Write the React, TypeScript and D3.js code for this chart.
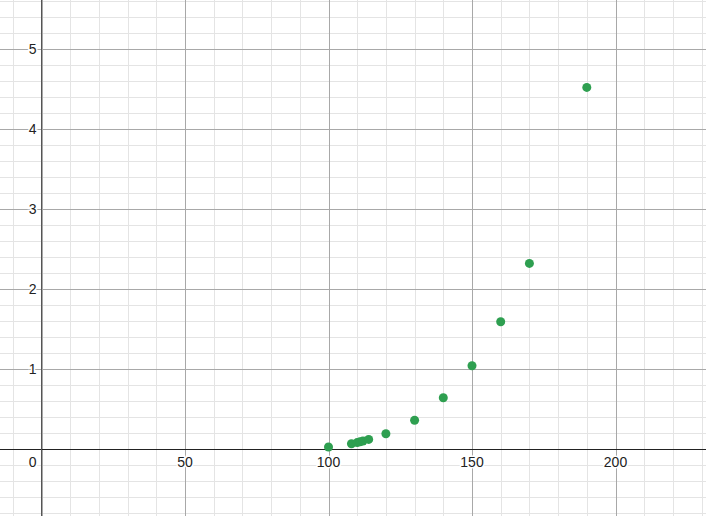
import * as d3 from 'd3';
import { useEffect, useRef } from 'react';

const xValues = [100, 108, 110, 111, 112, 114, 120, 130, 140, 150, 160, 170, 190];
const yValues = [0.025, 0.066, 0.08, 0.09, 0.1, 0.12, 0.19, 0.36, 0.64, 1.04, 1.59, 2.32, 4.52];
const xTickLabels = [0, 50, 100, 150, 200];
const yTickLabels = [1, 2, 3, 4, 5];

const App = () => {
  const ref = useRef<SVGSVGElement>(null);

  useEffect(() => {
    if (!ref.current) return;
    const width = 706;
    const height = 516;
    const svg = d3.select(ref.current);
    svg.selectAll('*').remove();

    // x = 0 sits at 41.5px, 2.87px per unit; y = 0 at 449px, 80px per unit
    const x = d3.scaleLinear().domain([0, 200]).range([41.5, 615.5]);
    const y = d3.scaleLinear().domain([0, 5]).range([449, 49]);

    const [x0, x1] = [x.invert(0), x.invert(width)];
    const [y0, y1] = [y.invert(height), y.invert(0)];

    svg.append('rect').attr('width', width).attr('height', height).attr('fill', '#fff');

    const minorX = d3.range(Math.ceil(x0 / 10) * 10, x1, 10);
    const minorY = d3.range(Math.ceil(y0 / 0.2) * 0.2, y1, 0.2);
    const majorX = d3.range(Math.ceil(x0 / 50) * 50, x1, 50);
    const majorY = d3.range(Math.ceil(y0), y1, 1);

    const grid = svg.append('g').attr('shape-rendering', 'crispEdges');
    grid.selectAll('.vx')
      .data(minorX)
      .join('line')
      .attr('x1', d => Math.round(x(d)) + 0.5)
      .attr('x2', d => Math.round(x(d)) + 0.5)
      .attr('y1', 0)
      .attr('y2', height)
      .attr('stroke', '#e4e4e4');
    grid.selectAll('.hy')
      .data(minorY)
      .join('line')
      .attr('y1', d => Math.round(y(d)) + 0.5)
      .attr('y2', d => Math.round(y(d)) + 0.5)
      .attr('x1', 0)
      .attr('x2', width)
      .attr('stroke', '#e4e4e4');
    grid.selectAll('.mx')
      .data(majorX)
      .join('line')
      .attr('x1', d => Math.round(x(d)) + 0.5)
      .attr('x2', d => Math.round(x(d)) + 0.5)
      .attr('y1', 0)
      .attr('y2', height)
      .attr('stroke', '#a8a8a8');
    grid.selectAll('.my')
      .data(majorY)
      .join('line')
      .attr('y1', d => Math.round(y(d)) + 0.5)
      .attr('y2', d => Math.round(y(d)) + 0.5)
      .attr('x1', 0)
      .attr('x2', width)
      .attr('stroke', '#a8a8a8');

    // axes
    grid.append('line')
      .attr('x1', 0).attr('x2', width)
      .attr('y1', y(0) + 0.5).attr('y2', y(0) + 0.5)
      .attr('stroke', '#222').attr('stroke-width', 1.5);
    grid.append('line')
      .attr('x1', x(0)).attr('x2', x(0))
      .attr('y1', 0).attr('y2', height)
      .attr('stroke', '#555').attr('stroke-width', 1.5);

    const font = 'Arial, "Liberation Sans", sans-serif';
    svg.selectAll('.xl')
      .data(xTickLabels)
      .join('text')
      .attr('x', d => d === 0 ? x(0) - 5 : x(d))
      .attr('y', y(0) + 18)
      .attr('text-anchor', d => d === 0 ? 'end' : 'middle')
      .attr('font-family', font)
      .attr('font-size', 14)
      .attr('fill', '#222')
      .attr('paint-order', 'stroke')
      .attr('stroke', '#fff')
      .attr('stroke-width', 3)
      .text(d => d);
    svg.selectAll('.yl')
      .data(yTickLabels)
      .join('text')
      .attr('x', x(0) - 5)
      .attr('y', d => y(d) + 5)
      .attr('text-anchor', 'end')
      .attr('font-family', font)
      .attr('font-size', 14)
      .attr('fill', '#222')
      .attr('paint-order', 'stroke')
      .attr('stroke', '#fff')
      .attr('stroke-width', 3)
      .text(d => d);

    svg.selectAll('.pt')
      .data(xValues.map((v, i) => ({ x: v, y: yValues[i] })))
      .join('circle')
      .attr('cx', d => x(d.x))
      .attr('cy', d => y(d.y))
      .attr('r', 4.5)
      .attr('fill', '#2e9f50');
  }, []);

  return (
    <svg
      ref={ref}
      width={706}
      height={516}
      style={{ position: 'fixed', top: 0, left: 0, display: 'block' }}
    />
  );
};

export default App;
